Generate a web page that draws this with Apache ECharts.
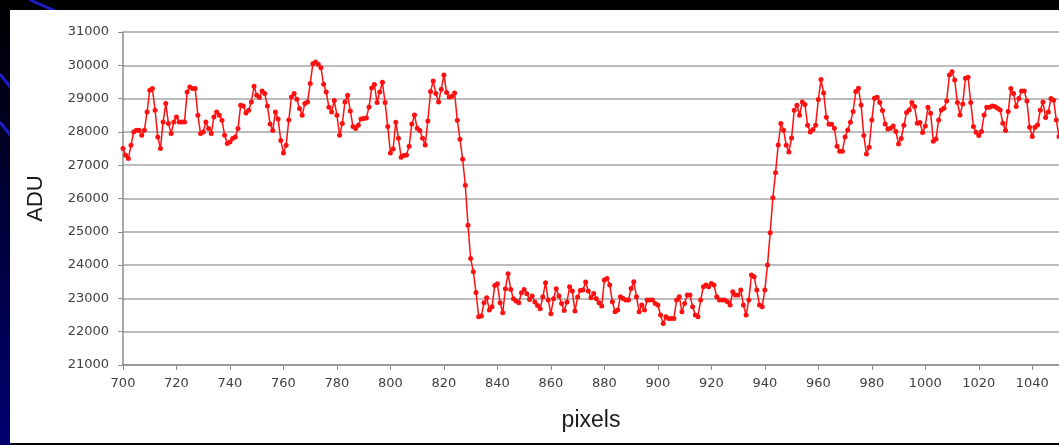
<!DOCTYPE html>
<html>
<head>
<meta charset="utf-8">
<title>ADU vs pixels</title>
<script src="https://cdn.jsdelivr.net/npm/echarts@6/dist/echarts.min.js"></script>
<style>
  html, body { margin: 0; padding: 0; background: #000; }
  #chart { width: 1059px; height: 445px; }
</style>
</head>
<body>
<div id="chart"></div>
<script>
// first pixel of the profile, one reading per pixel after it
const startPixel = 700

// 700 - 827: bright plateau on the left
const leftPlateau = [
  27500, 27300, 27200, 27600, 28000, 28050, 28050, 27900, 28050, 28600,
  29250, 29300, 28650, 27850, 27500, 28300, 28850, 28250, 27950, 28300,
  28450, 28300, 28300, 28300, 29200, 29350, 29300, 29300, 28500, 27950,
  28000, 28300, 28100, 27950, 28450, 28600, 28500, 28350, 27900, 27650,
  27700, 27800, 27850, 28100, 28800, 28780, 28570, 28650, 28900, 29370,
  29100, 29030, 29230, 29150, 28780, 28240, 28040, 28600, 28390, 27740,
  27370, 27600, 28360, 29050, 29150, 28980, 28700, 28500, 28850, 28900,
  29450, 30050, 30100, 30030, 29930, 29430, 29200, 28740, 28600, 28940,
  28500, 27900, 28250, 28900, 29100, 28630, 28160, 28100, 28200, 28390,
  28400, 28420, 28750, 29320, 29420, 28880, 29200, 29490, 28880, 28160,
  27370, 27490, 28290, 27810, 27240, 27290, 27310, 27570, 28240, 28510,
  28110, 28040, 27810, 27610, 28330, 29210, 29530, 29150, 28900, 29280,
  29710, 29180, 29050, 29070, 29170, 28350, 27780, 27180
]

// 828 - 834: falling edge
const fallingEdge = [26400, 25200, 24200, 23800, 23180, 22450, 22470]

// 835 - 940: dark floor
const darkFloor = [
  22870, 23020, 22650, 22750, 23390, 23440, 22870, 22570, 23290, 23740,
  23270, 22990, 22920, 22870, 23170, 23270, 23140, 22970, 23070, 22890,
  22790, 22690, 23050, 23470, 22950, 22540, 22990, 23290, 23070, 22850,
  22640, 22890, 23350, 23220, 22620, 23040, 23240, 23250, 23490, 23220,
  23020, 23150, 22990, 22870, 22770, 23550, 23600, 23400, 22900, 22600,
  22650, 23050, 23000, 22950, 22950, 23300, 23500, 23050, 22600, 22800,
  22650, 22950, 22950, 22950, 22850, 22800, 22500, 22250, 22450, 22400,
  22400, 22400, 22950, 23050, 22600, 22850, 23100, 23100, 22750, 22500,
  22450, 22950, 23350, 23400, 23350, 23450, 23400, 23050, 22950, 22950,
  22950, 22900, 22800, 23200, 23100, 23100, 23250, 22800, 22500, 22950,
  23700, 23650, 23250, 22800, 22750, 23250
]

// 941 - 946: rising edge
const risingEdge = [24000, 24970, 26020, 26770, 27610, 28250]

// 947 - 1050: bright plateau on the right
const rightPlateau = [
  28050, 27600, 27400, 27820, 28650, 28800, 28500, 28900, 28820, 28200,
  28000, 28070, 28200, 28970, 29570, 29170, 28440, 28230, 28230, 28110,
  27570, 27420, 27420, 27850, 28060, 28290, 28610, 29210, 29310, 28810,
  27890, 27340, 27540, 28360, 29010, 29040, 28880, 28640, 28240, 28090,
  28110, 28180, 28010, 27640, 27800, 28200, 28580, 28660, 28880, 28760,
  28260, 28280, 27980, 28180, 28740, 28560, 27720, 27790, 28360, 28660,
  28710, 28930, 29710, 29810, 29560, 28880, 28510, 28840, 29610, 29640,
  28880, 28160, 27990, 27890, 28010, 28510, 28740, 28740, 28780, 28760,
  28710, 28660, 28260, 28040, 28610, 29300, 29150, 28760, 29000, 29230,
  29230, 28930, 28140, 27860, 28140, 28210, 28650, 28900, 28430, 28600,
  29000, 28950, 28360, 27860
]

const adu = [...leftPlateau, ...fallingEdge, ...darkFloor, ...risingEdge, ...rightPlateau]
const points = adu.map((v, i) => [startPixel + i, v])

const chart = echarts.init(document.getElementById('chart'))

// plain integers, no thousands separator
const plain = (v) => String(v)

const option = {
  backgroundColor: '#000',
  animation: false,
  textStyle: { fontFamily: 'DejaVu Sans' },
  graphic: [
    // navy fade down the left margin
    {
      type: 'rect',
      shape: { x: 0, y: 0, width: 12, height: 445 },
      style: {
        fill: new echarts.graphic.LinearGradient(0, 0, 0, 1, [
          { offset: 0, color: '#000000' },
          { offset: 0.35, color: '#00002a' },
          { offset: 1, color: '#000070' }
        ])
      },
      z: -10
    },
    // blue slide decoration at the top left
    { type: 'line', shape: { x1: 30, y1: 0, x2: 62, y2: 14 }, style: { stroke: '#1c1cc8', lineWidth: 3 }, z: -9 },
    { type: 'line', shape: { x1: 0, y1: 74, x2: 14, y2: 92 }, style: { stroke: '#1c1cc8', lineWidth: 3 }, z: -9 },
    { type: 'line', shape: { x1: 0, y1: 122, x2: 14, y2: 140 }, style: { stroke: '#1c1cc8', lineWidth: 3 }, z: -9 },
    // white chart panel
    {
      type: 'rect',
      shape: { x: 10, y: 10, width: 1049, height: 433 },
      style: { fill: '#ffffff' },
      z: -8
    }
  ],
  grid: { left: 123, right: 0, top: 32, bottom: 80 },
  xAxis: {
    type: 'value',
    min: 700,
    max: 1050,
    interval: 20,
    name: 'pixels',
    nameLocation: 'middle',
    nameGap: 44,
    nameTextStyle: { fontSize: 23, color: '#1a1a1a', fontFamily: 'Liberation Sans' },
    axisLine: { lineStyle: { color: '#8c8c8c', width: 1.5 } },
    axisTick: { length: 5, lineStyle: { color: '#8c8c8c' } },
    axisLabel: { fontSize: 13, color: '#404040', margin: 12, showMaxLabel: false, formatter: plain },
    splitLine: { show: false }
  },
  yAxis: {
    type: 'value',
    min: 21000,
    max: 31000,
    interval: 1000,
    name: 'ADU',
    nameLocation: 'middle',
    nameGap: 76,
    nameRotate: 90,
    nameTextStyle: { fontSize: 22, color: '#1a1a1a', fontFamily: 'Liberation Sans' },
    axisLine: { show: true, lineStyle: { color: '#8c8c8c', width: 1.5 } },
    axisTick: { show: true, length: 5, lineStyle: { color: '#8c8c8c' } },
    axisLabel: { fontSize: 13, color: '#404040', margin: 14, formatter: plain },
    splitLine: { lineStyle: { color: '#a6a6a6', width: 1.5 } }
  },
  series: [
    {
      name: 'ADU',
      type: 'line',
      data: points,
      symbol: 'circle',
      symbolSize: 5,
      showSymbol: true,
      lineStyle: { color: '#ff1010', width: 1.5 },
      itemStyle: { color: '#ff1010' }
    }
  ]
}

chart.setOption(option)
</script>
</body>
</html>
